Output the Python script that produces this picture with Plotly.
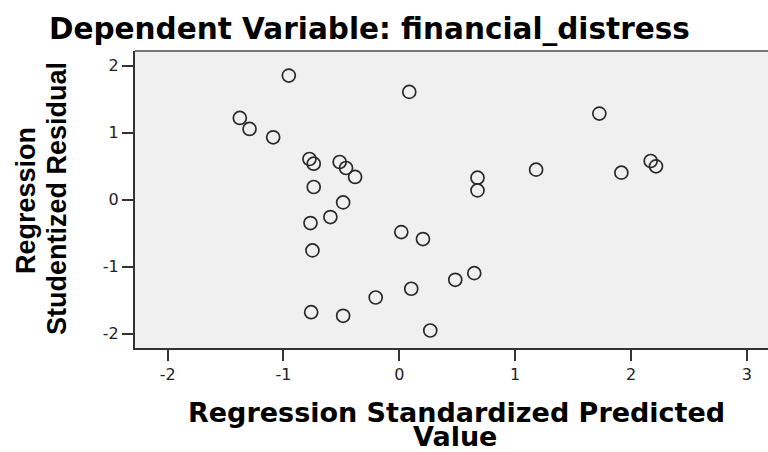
import plotly.graph_objects as go

# Data (standardized predicted vs studentized residual)
pred = [-0.954, 0.086, -1.377, -1.293, -1.089, -0.776, -0.739, -0.515, -0.460, -0.382,
        -0.739, -0.485, 1.727, 0.675, 0.675, 1.181, 1.917, 2.170, 2.216, -0.595,
        -0.767, 0.017, 0.204, -0.750, 0.103, -0.204, -0.761, -0.485, 0.267, 0.483, 0.647]
resid = [1.850, 1.607, 1.219, 1.055, 0.930, 0.607, 0.537, 0.562, 0.473, 0.339,
         0.189, -0.040, 1.284, 0.328, 0.139, 0.448, 0.403, 0.577, 0.497, -0.259,
         -0.348, -0.483, -0.587, -0.756, -1.328, -1.458, -1.677, -1.731, -1.950, -1.194, -1.095]
xtick_vals = [-2, -1, 0, 1, 2, 3]
xtick_text = ["-2", "-1", "0", "1", "2", "3"]
ytick_vals = [-2, -1, 0, 1, 2]
ytick_text = ["-2", "-1", "0", "1", "2"]

W, H = 768, 452
L, R, T, B = 135, 0, 51, 104
PW, PH = W - L - R, H - T - B

def px_x(p):
    return (p - L) / PW

def px_y(p):
    return (H - B - p) / PH

fig = go.Figure()
fig.add_trace(go.Scatter(
    x=pred, y=resid, mode="markers",
    marker=dict(symbol="circle-open", size=13, color="#2a2a2a", line=dict(width=1.7)),
    showlegend=False, hoverinfo="x+y",
))

axis_common = dict(
    showgrid=False, zeroline=False, showline=True, linecolor="#333333", linewidth=2,
    ticks="outside", ticklen=11, tickwidth=2, tickcolor="#333333",
    tickfont=dict(family="DejaVu Sans", size=16, color="#222222"),
)

fig.update_layout(
    width=W, height=H,
    margin=dict(l=L, r=R, t=T, b=B),
    paper_bgcolor="white", plot_bgcolor="#f0f0f0",
    xaxis=dict(range=[-2.282, 3.183], tickvals=xtick_vals, ticktext=xtick_text, **axis_common),
    yaxis=dict(range=[-2.211, 2.217], tickvals=ytick_vals, ticktext=ytick_text, **axis_common),
    shapes=[dict(type="line", xref="paper", yref="paper", x0=0, x1=1, y0=1, y1=1,
                 line=dict(color="#777777", width=2))],
)

title_font = dict(family="DejaVu Sans", size=29.5, color="black")
bold_font = dict(family="DejaVu Sans", size=27, color="black")
ybold_font = dict(family="Liberation Sans, Arial", size=27, color="black")

annos = [
    dict(text="<b>Dependent Variable: financial_distress</b>", x=px_x(47), y=px_y(29),
         xanchor="left", yanchor="middle", font=title_font),
    dict(text="<b>Regression Standardized Predicted</b>", x=px_x(456), y=px_y(412),
         xanchor="center", yanchor="middle", font=bold_font),
    dict(text="<b>Value</b>", x=px_x(455), y=px_y(436),
         xanchor="center", yanchor="middle", font=bold_font),
    dict(text="<b>Regression</b>", x=px_x(26), y=px_y(201), textangle=-90,
         xanchor="center", yanchor="middle", font=ybold_font),
    dict(text="<b>Studentized Residual</b>", x=px_x(57), y=px_y(199), textangle=-90,
         xanchor="center", yanchor="middle", font=ybold_font),
]
for a in annos:
    fig.add_annotation(xref="paper", yref="paper", showarrow=False, **a)

fig.write_html("out.html")
